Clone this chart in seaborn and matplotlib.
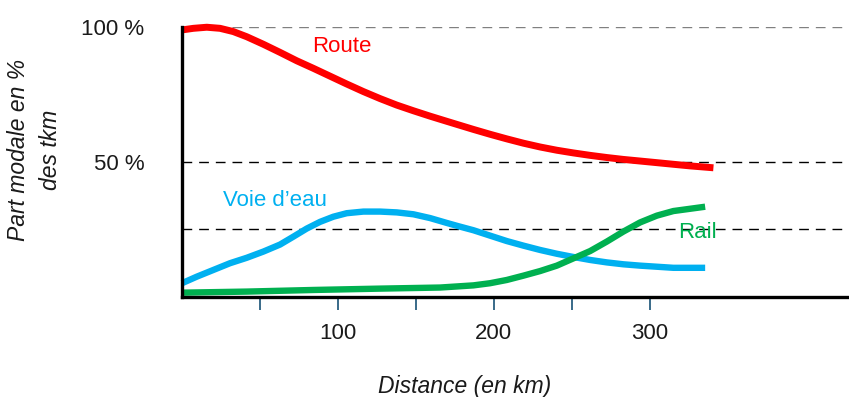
"""
Modal share (% of tkm) by road, inland waterway and rail versus haul distance.
"""
import matplotlib
matplotlib.use("Agg")
import matplotlib.pyplot as plt
import numpy as np
import pandas as pd
import seaborn as sns

sns.set_style("white")
plt.rcParams["font.family"] = ["Liberation Sans", "DejaVu Sans"]

# values
dist_route = [0, 7.3, 15.9, 24.4, 32.9, 41.5, 52.2, 62.9, 73.6, 84.3, 95.0, 105.7,
              116.4, 127.1, 137.8, 148.5, 159.2, 169.9, 177.3, 187.0, 197.7, 208.4,
              219.1, 229.8, 240.5, 251.2, 261.9, 272.6, 283.2, 294.0, 304.7, 315.3,
              326.1, 341.0]
route = [98.8, 99.4, 99.8, 99.4, 98.2, 96.3, 93.5, 90.5, 87.4, 84.6, 81.7, 78.8,
         76.0, 73.4, 71.0, 68.9, 66.9, 65.0, 63.7, 62.0, 60.2, 58.5,
         56.9, 55.5, 54.3, 53.3, 52.4, 51.6, 50.9, 50.3, 49.7, 49.1,
         48.5, 47.8]

dist_water = [0, 9.4, 20.1, 30.8, 41.5, 52.2, 62.9, 71.4, 80.0, 88.6, 97.1, 105.7,
              116.4, 127.1, 137.8, 148.5, 159.2, 169.9, 177.3, 187.0, 197.7, 208.4,
              219.1, 229.8, 240.5, 251.2, 261.9, 272.6, 283.2, 294.0, 304.7, 315.3,
              335.7]
water = [5.1, 7.5, 10.0, 12.5, 14.5, 16.8, 19.4, 22.3, 25.3, 27.8, 29.7, 31.0,
         31.6, 31.6, 31.3, 30.6, 29.2, 27.4, 26.2, 24.7, 22.7, 20.7,
         19.0, 17.4, 16.0, 14.8, 13.7, 12.8, 12.1, 11.6, 11.2, 10.8,
         10.8]

dist_rail = [0, 41.5, 84.3, 127.1, 165.6, 176.3, 187.0, 197.7, 208.4, 219.1, 229.8,
             240.5, 251.2, 261.9, 272.6, 283.2, 294.0, 304.7, 315.3, 335.7]
rail = [1.6, 2.0, 2.6, 3.1, 3.5, 3.9, 4.3, 5.1, 6.3, 7.9, 9.6,
        11.6, 14.3, 17.0, 20.5, 24.2, 27.6, 30.1, 31.8, 33.4]

x_ticks = [50, 100, 150, 200, 250, 300]
x_ticklabels = ["", "100", "", "200", "", "300"]
y_ticks = [100, 50]
y_ticklabels = ["100 %", "50 %"]
ref_lines = [100, 50, 25]

modes = [
    ("Route", dist_route, route, "#FF0000", 5.0, (342, 46)),
    ("Voie d\u2019eau", dist_water, water, "#00B0F0", 4.6, (275, 201)),
    ("Rail", dist_rail, rail, "#00B050", 4.6, (697, 233)),
]

W, H = 849, 397
fig = plt.figure(figsize=(W / 100, H / 100), dpi=100)
ax = fig.add_axes([182 / W, 1 - 297 / H, 1 - 182 / W, (297 - 26.7) / H])

for i, y in enumerate(ref_lines):
    ax.axhline(y, color="#808080" if i == 0 else "black", linewidth=1.0,
               linestyle=(0, (7, 5)), zorder=1)

for name, xs, ys, color, lw, _ in modes:
    df = pd.DataFrame({"dist": xs, "share": ys})
    sns.lineplot(data=df, x="dist", y="share", ax=ax, color=color, linewidth=lw,
                 solid_capstyle="butt", solid_joinstyle="round", clip_on=False,
                 zorder=3, estimator=None, sort=False)

ax.set_xlim(0, 428)
ax.set_ylim(0, 100)

for name, _, _, color, _, (px, py) in modes:
    fig.text(px / W, 1 - py / H, name, color=color, fontsize=16,
             ha="center", va="center")

ax.set_xticks(x_ticks)
ax.set_xticklabels(x_ticklabels)
ax.set_yticks(y_ticks)
ax.set_yticklabels(y_ticklabels)
ax.tick_params(axis="x", bottom=True, direction="out", length=9, width=1.3,
               color="#2A5F80", pad=10, labelsize=16, labelcolor="#1a1a1a")
ax.tick_params(axis="y", left=False, length=0, pad=27, labelsize=16,
               labelcolor="#1a1a1a")
ax.set_xlabel("")
ax.set_ylabel("")

for side in ["top", "right"]:
    ax.spines[side].set_visible(False)
for side in ["left", "bottom"]:
    ax.spines[side].set_linewidth(2.4)
    ax.spines[side].set_color("black")
    ax.spines[side].set_zorder(4)

fig.text(465 / W, 1 - 386 / H, "Distance (en km)", fontsize=16.5, style="italic",
         ha="center", va="center", color="#1a1a1a")
fig.text(35 / W, 1 - 150 / H, "Part modale en %\ndes tkm", fontsize=16.5,
         style="italic", rotation=90, ha="center", va="center",
         multialignment="center", color="#1a1a1a", linespacing=1.5)

fig.savefig("out.png", dpi=100)
plt.close(fig)
print("Saved: out.png")
